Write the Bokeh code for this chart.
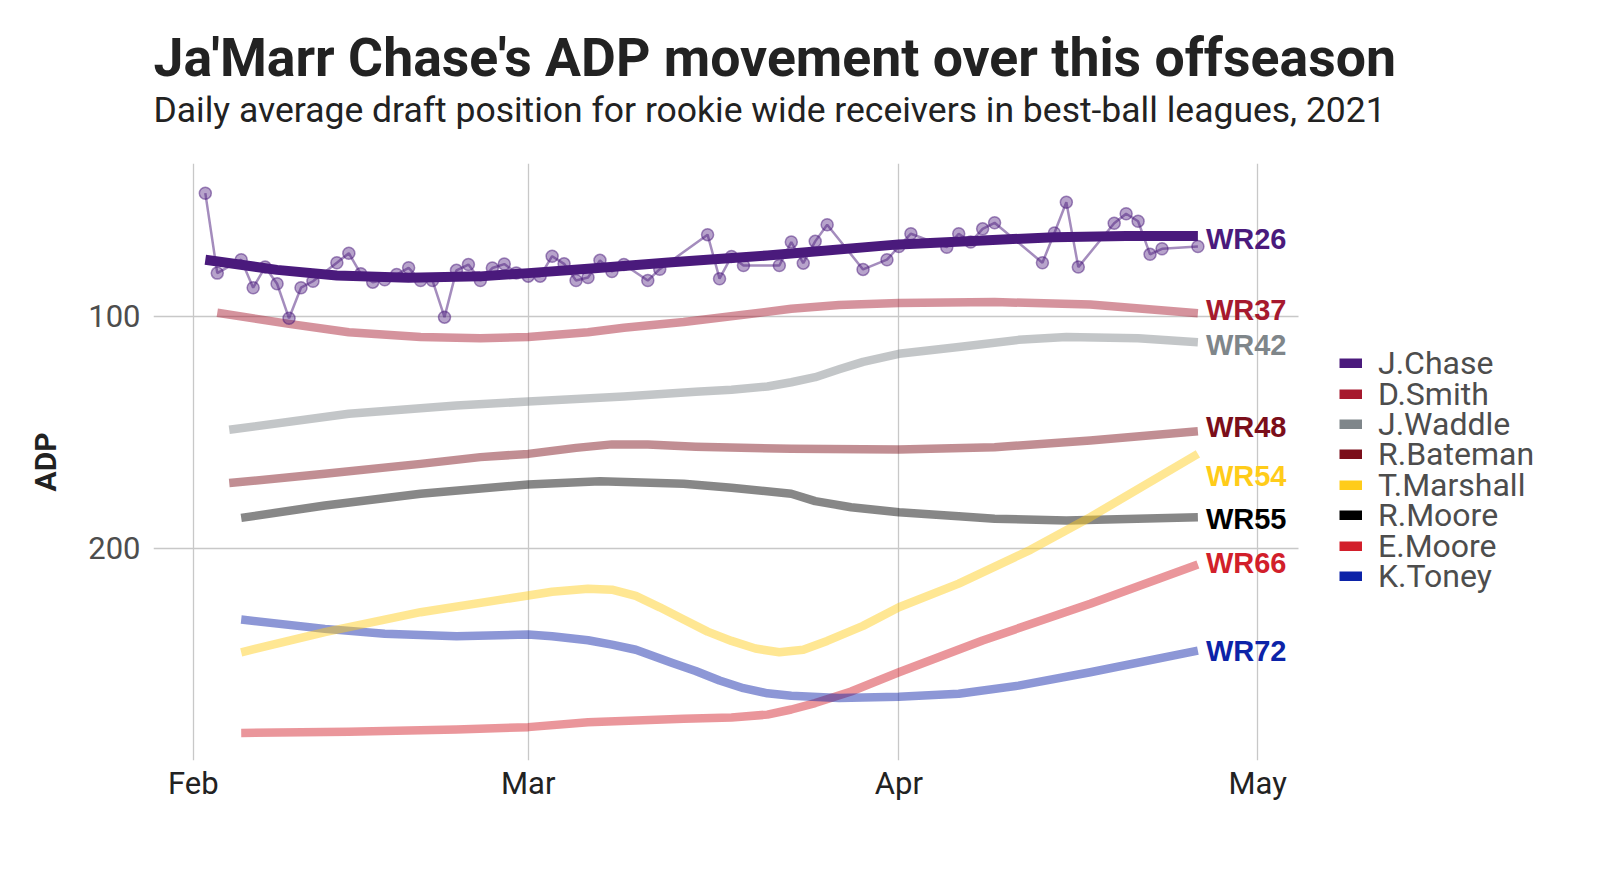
import pandas as pd
from bokeh.plotting import figure
from bokeh.models import (Range1d, FixedTicker, DatetimeTickFormatter, Legend,
                          LegendItem, Title, ColumnDataSource)
from bokeh.core.properties import value
from bokeh.embed import file_html
from bokeh.resources import INLINE

# ---------------- data ----------------
players = ["J.Chase", "D.Smith", "J.Waddle", "R.Bateman", "T.Marshall", "R.Moore", "E.Moore", "K.Toney"]
colors = ["#4A1A7C", "#A6192E", "#7F868A", "#7B0E1A", "#FFCC1A", "#000000", "#D21F2B", "#0C23A8"]
wr_labels = ["WR26", "WR37", "WR42", "WR48", "WR54", "WR55", "WR66", "WR72"]
label_adp = [66.6, 97.3, 112.4, 147.9, 168.8, 187.4, 206.2, 244.5]

chase_dates = ["2021-02-02", "2021-02-03", "2021-02-05", "2021-02-06", "2021-02-07", "2021-02-08",
               "2021-02-09", "2021-02-10", "2021-02-11", "2021-02-13", "2021-02-14", "2021-02-15",
               "2021-02-16", "2021-02-17", "2021-02-18", "2021-02-19", "2021-02-20", "2021-02-21",
               "2021-02-22", "2021-02-23", "2021-02-24", "2021-02-25", "2021-02-26", "2021-02-27",
               "2021-02-28", "2021-03-01", "2021-03-02", "2021-03-03", "2021-03-04", "2021-03-05",
               "2021-03-06", "2021-03-07", "2021-03-08", "2021-03-09", "2021-03-11", "2021-03-12",
               "2021-03-16", "2021-03-17", "2021-03-18", "2021-03-19", "2021-03-22", "2021-03-23",
               "2021-03-24", "2021-03-25", "2021-03-26", "2021-03-29", "2021-03-31", "2021-04-01",
               "2021-04-02", "2021-04-05", "2021-04-06", "2021-04-07", "2021-04-08", "2021-04-09",
               "2021-04-13", "2021-04-14", "2021-04-15", "2021-04-16", "2021-04-19", "2021-04-20",
               "2021-04-21", "2021-04-22", "2021-04-23", "2021-04-26"]
chase_adp = [46.8, 81.3, 75.5, 87.6, 78.7, 85.9,
             100.8, 87.6, 84.8, 76.8, 72.7, 81.6,
             85.2, 84.2, 81.9, 79.0, 84.5, 84.5,
             100.3, 80.1, 77.6, 84.5, 79.1, 77.4,
             81.2, 82.6, 82.6, 74.0, 77.3, 84.5,
             83.2, 75.8, 80.6, 77.6, 84.5, 79.6,
             64.7, 83.7, 74.1, 78.0, 78.0, 67.9,
             77.0, 67.6, 60.4, 79.7, 75.5, 69.8,
             64.3, 70.1, 64.3, 67.9, 62.2, 59.6,
             76.8, 64.0, 50.7, 78.7, 59.8, 55.7,
             58.9, 73.2, 70.8, 69.8]

chase_trend_dates = ["2021-02-02", "2021-02-08", "2021-02-13", "2021-02-19", "2021-02-25", "2021-03-01",
                     "2021-03-06", "2021-03-13", "2021-03-21", "2021-04-01", "2021-04-08", "2021-04-14",
                     "2021-04-20", "2021-04-26"]
chase_trend = [75.5, 79.9, 82.3, 83.3, 82.7, 81.3, 79.4, 76.6, 73.7, 68.9, 67.2, 65.8, 65.3, 65.3]

smith_dates = ["2021-02-03", "2021-02-09", "2021-02-14", "2021-02-20", "2021-02-25", "2021-03-01",
               "2021-03-06", "2021-03-09", "2021-03-14", "2021-03-19", "2021-03-23", "2021-03-27",
               "2021-04-01", "2021-04-09", "2021-04-17", "2021-04-26"]
smith_adp = [98.4, 103.2, 106.8, 108.9, 109.4, 108.9, 106.8, 104.9, 102.4, 99.3, 96.7, 95.1,
             94.2, 93.8, 94.8, 98.6]

waddle_dates = ["2021-02-04", "2021-02-14", "2021-02-23", "2021-03-01", "2021-03-09", "2021-03-15",
                "2021-03-18", "2021-03-21", "2021-03-23", "2021-03-25", "2021-03-27", "2021-03-29",
                "2021-04-01", "2021-04-06", "2021-04-11", "2021-04-15", "2021-04-21", "2021-04-26"]
waddle_adp = [148.9, 142.0, 138.4, 136.7, 134.5, 132.5, 131.6, 130.2, 128.4, 126.2, 122.8, 119.6,
              116.1, 113.2, 110.1, 108.9, 109.4, 111.1]

bateman_dates = ["2021-02-04", "2021-02-12", "2021-02-20", "2021-02-25", "2021-03-01", "2021-03-05",
                 "2021-03-08", "2021-03-11", "2021-03-15", "2021-03-23", "2021-04-01", "2021-04-09",
                 "2021-04-17", "2021-04-26"]
bateman_adp = [171.9, 167.9, 163.6, 160.7, 159.3, 156.7, 155.2, 155.3, 156.2, 157.1, 157.4, 156.4,
               153.5, 149.5]

marshall_dates = ["2021-02-05", "2021-02-12", "2021-02-20", "2021-03-01", "2021-03-03", "2021-03-06",
                  "2021-03-08", "2021-03-10", "2021-03-12", "2021-03-14", "2021-03-16", "2021-03-18",
                  "2021-03-20", "2021-03-22", "2021-03-24", "2021-03-26", "2021-03-29", "2021-04-01",
                  "2021-04-06", "2021-04-12", "2021-04-17", "2021-04-26"]
marshall_adp = [244.9, 236.2, 227.6, 220.4, 218.8, 217.5, 217.9, 220.6, 225.5, 230.8, 236.0, 240.0,
                243.3, 244.9, 243.8, 240.0, 233.5, 225.5, 215.3, 200.7, 186.6, 159.3]

rmoore_dates = ["2021-02-05", "2021-02-12", "2021-02-20", "2021-03-01", "2021-03-07", "2021-03-14",
                "2021-03-18", "2021-03-23", "2021-03-25", "2021-03-28", "2021-04-01", "2021-04-06",
                "2021-04-09", "2021-04-15", "2021-04-26"]
rmoore_adp = [186.9, 181.6, 176.5, 172.5, 171.1, 172.2, 173.9, 176.5, 179.7, 182.3, 184.5, 186.2,
              187.3, 188.0, 186.6]

emoore_dates = ["2021-02-05", "2021-02-14", "2021-02-23", "2021-03-01", "2021-03-06", "2021-03-14",
                "2021-03-18", "2021-03-21", "2021-03-23", "2021-03-25", "2021-03-28", "2021-04-01",
                "2021-04-08", "2021-04-17", "2021-04-26"]
emoore_adp = [279.7, 279.2, 278.2, 277.2, 275.1, 273.6, 273.0, 271.8, 269.6, 266.8, 261.8, 253.5,
              239.8, 224.0, 207.0]

toney_dates = ["2021-02-05", "2021-02-12", "2021-02-17", "2021-02-23", "2021-03-01", "2021-03-03",
               "2021-03-06", "2021-03-08", "2021-03-10", "2021-03-13", "2021-03-15", "2021-03-17",
               "2021-03-19", "2021-03-21", "2021-03-23", "2021-03-27", "2021-04-01", "2021-04-06",
               "2021-04-11", "2021-04-17", "2021-04-26"]
toney_adp = [230.8, 234.8, 236.9, 238.0, 237.2, 238.0, 239.7, 241.6, 243.8, 249.4, 253.0, 257.1,
             260.4, 262.6, 263.7, 264.6, 264.1, 262.8, 259.3, 253.5, 244.2]

month_ticks = ["2021-02-01", "2021-03-01", "2021-04-01", "2021-05-01"]
adp_ticks = [100, 200]

# ---------------- figure ----------------
FONT = "Roboto"
to_dt = lambda lst: pd.to_datetime(lst)
ms = lambda s: pd.Timestamp(s).value / 1e6

x_start = pd.Timestamp("2021-01-28 16:00")
grid_end = pd.Timestamp("2021-05-04 09:30")     # right edge of the panel area
x_end = pd.Timestamp("2021-05-29 16:00")        # canvas edge (room for legend)

p = figure(width=1600, height=896, x_axis_type="datetime",
           x_range=Range1d(x_start, x_end),
           y_range=Range1d(291.6, 34.0),
           output_backend="svg", toolbar_location=None,
           min_border_left=153, min_border_right=0, min_border_top=163, min_border_bottom=136)
p.outline_line_color = None
p.background_fill_color = "white"
p.border_fill_color = "white"

p.xaxis.ticker = FixedTicker(ticks=[ms(t) for t in month_ticks])
p.xaxis.formatter = DatetimeTickFormatter(months="%b", days="%b", hours="%b", years="%b")
p.yaxis.ticker = FixedTicker(ticks=adp_ticks)

for ax in (p.xaxis, p.yaxis):
    ax.axis_line_color = None
    ax.major_tick_line_color = None
    ax.minor_tick_line_color = None
    ax.major_tick_out = 0
    ax.major_tick_in = 0
    ax.major_label_text_font = FONT
    ax.major_label_text_font_size = "31px"

p.xaxis.major_label_text_color = "#222222"
p.xaxis.major_label_standoff = 4
p.yaxis.major_label_text_color = "#4D4D4D"
p.yaxis.major_label_standoff = 13
p.yaxis.axis_label = "ADP"
p.yaxis.axis_label_text_font = FONT
p.yaxis.axis_label_text_font_style = "bold"
p.yaxis.axis_label_text_font_size = "30px"
p.yaxis.axis_label_text_color = "#222222"
p.yaxis.axis_label_standoff = 22

GRID = "#C8C8C8"
p.xgrid.grid_line_color = GRID
p.xgrid.grid_line_width = 1.3
ygrid = p.ygrid[0]
if "cross_bounds" in ygrid.properties():
    ygrid.cross_bounds = (ms(x_start), ms(grid_end))
    ygrid.grid_line_color = GRID
    ygrid.grid_line_width = 1.3
else:
    ygrid.grid_line_color = None
    p.segment(x0=[x_start] * len(adp_ticks), x1=[grid_end] * len(adp_ticks),
              y0=adp_ticks, y1=adp_ticks, line_color=GRID, line_width=1.3)

# other players' smoothed lines
series = [
    (smith_dates, smith_adp, colors[1]),
    (waddle_dates, waddle_adp, colors[2]),
    (bateman_dates, bateman_adp, colors[3]),
    (rmoore_dates, rmoore_adp, colors[5]),
    (emoore_dates, emoore_adp, colors[6]),
    (toney_dates, toney_adp, colors[7]),
    (marshall_dates, marshall_adp, colors[4]),
]
for d, v, c in series:
    p.line(to_dt(d), v, line_color=c, line_alpha=0.47, line_width=8.5, line_join="round")

# Chase daily points + trend
p.line(to_dt(chase_dates), chase_adp, line_color=colors[0], line_alpha=0.5, line_width=2.5)
p.scatter(to_dt(chase_dates), chase_adp, size=12, fill_color=colors[0], fill_alpha=0.4,
          line_color=colors[0], line_alpha=0.5, line_width=1.5)
p.line(to_dt(chase_trend_dates), chase_trend, line_color=colors[0], line_width=10, line_join="round")

# end labels
end_date = pd.Timestamp(chase_trend_dates[-1])
src = ColumnDataSource(dict(x=[end_date] * len(wr_labels), y=label_adp, t=wr_labels, c=colors))
p.text(x="x", y="y", text="t", text_color="c", source=src, x_offset=8,
       text_align="left", text_baseline="middle", text_font=value("Liberation Sans"),
       text_font_style="bold", text_font_size="29px")

# legend with solid keys (hidden proxy renderers carry the solid colours)
all_series = [(chase_trend_dates, chase_trend), (smith_dates, smith_adp), (waddle_dates, waddle_adp),
              (bateman_dates, bateman_adp), (marshall_dates, marshall_adp),
              (rmoore_dates, rmoore_adp), (emoore_dates, emoore_adp), (toney_dates, toney_adp)]
ROW_TOP, ROW_PITCH, HALF_ROW = 363.5, 30.4, 18.7
for i, (name, c, (d, v)) in enumerate(zip(players, colors, all_series)):
    r = p.line(to_dt(d), v, line_color=c, line_width=10, visible=False)
    centre = ROW_TOP + ROW_PITCH * i
    lg = Legend(items=[LegendItem(label=name, renderers=[r])],
                location=(1186, 760 - centre - HALF_ROW), glyph_width=23, glyph_height=10,
                label_standoff=16, padding=0, spacing=0, margin=0,
                label_text_font=FONT, label_text_font_size="32px", label_text_color="#4D4D4D",
                border_line_alpha=0, background_fill_alpha=0)
    p.add_layout(lg, "center")

# title, subtitle and a small spacer between subtitle and panel
p.add_layout(Title(text=" ", align="left", text_font=FONT, text_font_size="10px",
                   text_color="#FFFFFF", standoff=15), "above")
p.add_layout(Title(text="Daily average draft position for rookie wide receivers in best-ball leagues, 2021",
                   align="left", text_font=FONT, text_font_size="35.5px", text_font_style="normal",
                   text_color="#222222", standoff=10), "above")
p.add_layout(Title(text="Ja'Marr Chase's ADP movement over this offseason",
                   align="left", text_font=FONT, text_font_size="53.6px", text_font_style="bold",
                   text_color="#222222", standoff=-15), "above")

open("out.html", "w").write(file_html(p, INLINE))
